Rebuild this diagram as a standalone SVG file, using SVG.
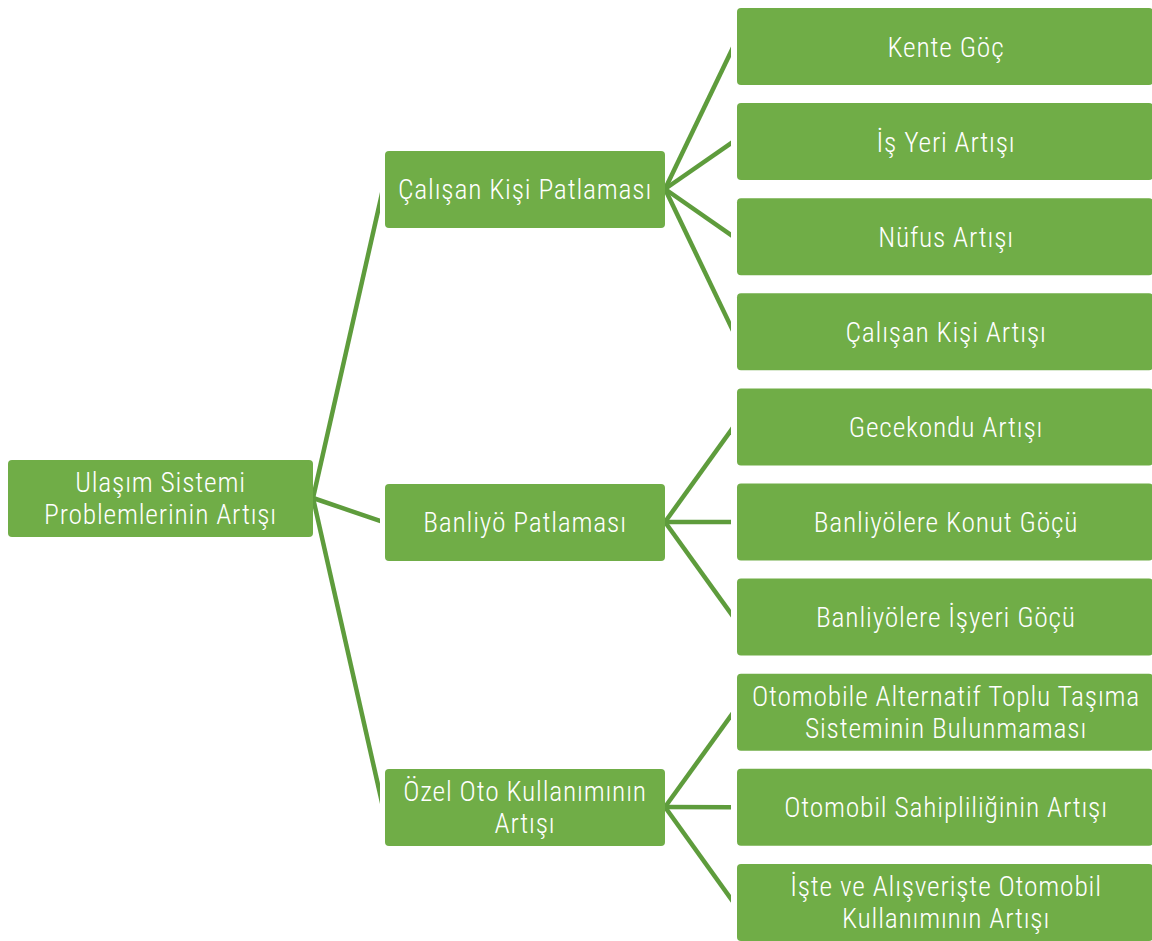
<svg xmlns="http://www.w3.org/2000/svg" width="1152" height="941" viewBox="0 0 1152 941">
<style>
.box{fill:#70ad47;}
.t{font-family:"Liberation Sans Narrow","Roboto Condensed","Liberation Sans",sans-serif;font-size:27.5px;font-weight:300;letter-spacing:0.8px;fill:#ffffff;text-anchor:middle;}
.c{stroke:#5e9c3c;stroke-width:4.5;fill:none;stroke-linecap:butt;}
</style>
<defs>
<clipPath id="c2"><rect x="0" y="0" width="380" height="941"/></clipPath>
<clipPath id="c3"><rect x="400" y="0" width="331" height="941"/></clipPath>
</defs>
<g id="connectors">
<g clip-path="url(#c2)">
<line class="c" x1="313" y1="498" x2="383" y2="189"/>
<line class="c" x1="313" y1="498" x2="383" y2="522"/>
<line class="c" x1="313" y1="498" x2="383" y2="807"/>
</g>
<g clip-path="url(#c3)">
<line class="c" x1="665" y1="189" x2="733.5" y2="46.5"/>
<line class="c" x1="665" y1="189" x2="733.5" y2="141.6"/>
<line class="c" x1="665" y1="189" x2="733.5" y2="236.7"/>
<line class="c" x1="665" y1="189" x2="733.5" y2="331.8"/>
<line class="c" x1="665" y1="522" x2="733.5" y2="426.9"/>
<line class="c" x1="665" y1="522" x2="733.5" y2="522"/>
<line class="c" x1="665" y1="522" x2="733.5" y2="617.1"/>
<line class="c" x1="665" y1="807" x2="733.5" y2="712.2"/>
<line class="c" x1="665" y1="807" x2="733.5" y2="807.3"/>
<line class="c" x1="665" y1="807" x2="733.5" y2="902.4"/>
</g>
</g>
<g id="root">
<rect class="box" x="8" y="460" width="305" height="77" rx="4"/>
<text class="t" x="160.5" y="492">Ulaşım Sistemi</text>
<text class="t" x="160.5" y="524">Problemlerinin Artışı</text>
</g>
<g id="calisan-kisi-patlamasi">
<rect class="box" x="385" y="151" width="280" height="77" rx="4"/>
<text class="t" x="525" y="199">Çalışan Kişi Patlaması</text>
</g>
<g id="banliyo-patlamasi">
<rect class="box" x="385" y="484" width="280" height="77" rx="4"/>
<text class="t" x="525" y="532">Banliyö Patlaması</text>
</g>
<g id="ozel-oto">
<rect class="box" x="385" y="769" width="280" height="77" rx="4"/>
<text class="t" x="525" y="801">Özel Oto Kullanımının</text>
<text class="t" x="525" y="833">Artışı</text>
</g>
<g id="kente-goc">
<rect class="box" x="737" y="8" width="416" height="77" rx="4"/>
<text class="t" x="946" y="56.5">Kente Göç</text>
</g>
<g id="is-yeri-artisi">
<rect class="box" x="737" y="103.1" width="416" height="77" rx="4"/>
<text class="t" x="946" y="151.6">İş Yeri Artışı</text>
</g>
<g id="nufus-artisi">
<rect class="box" x="737" y="198.2" width="416" height="77" rx="4"/>
<text class="t" x="946" y="246.7">Nüfus Artışı</text>
</g>
<g id="calisan-kisi-artisi">
<rect class="box" x="737" y="293.3" width="416" height="77" rx="4"/>
<text class="t" x="946" y="341.8">Çalışan Kişi Artışı</text>
</g>
<g id="gecekondu-artisi">
<rect class="box" x="737" y="388.4" width="416" height="77" rx="4"/>
<text class="t" x="946" y="436.9">Gecekondu Artışı</text>
</g>
<g id="banliyolere-konut-gocu">
<rect class="box" x="737" y="483.5" width="416" height="77" rx="4"/>
<text class="t" x="946" y="532">Banliyölere Konut Göçü</text>
</g>
<g id="banliyolere-isyeri-gocu">
<rect class="box" x="737" y="578.6" width="416" height="77" rx="4"/>
<text class="t" x="946" y="627.1">Banliyölere İşyeri Göçü</text>
</g>
<g id="otomobile-alternatif">
<rect class="box" x="737" y="673.7" width="416" height="77" rx="4"/>
<text class="t" x="946" y="706">Otomobile Alternatif Toplu Taşıma</text>
<text class="t" x="946" y="738">Sisteminin Bulunmaması</text>
</g>
<g id="otomobil-sahipliligi">
<rect class="box" x="737" y="768.8" width="416" height="77" rx="4"/>
<text class="t" x="946" y="817.3">Otomobil Sahipliliğinin Artışı</text>
</g>
<g id="iste-ve-alisveriste">
<rect class="box" x="737" y="863.9" width="416" height="77" rx="4"/>
<text class="t" x="946" y="896">İşte ve Alışverişte Otomobil</text>
<text class="t" x="946" y="928">Kullanımının Artışı</text>
</g>
</svg>
